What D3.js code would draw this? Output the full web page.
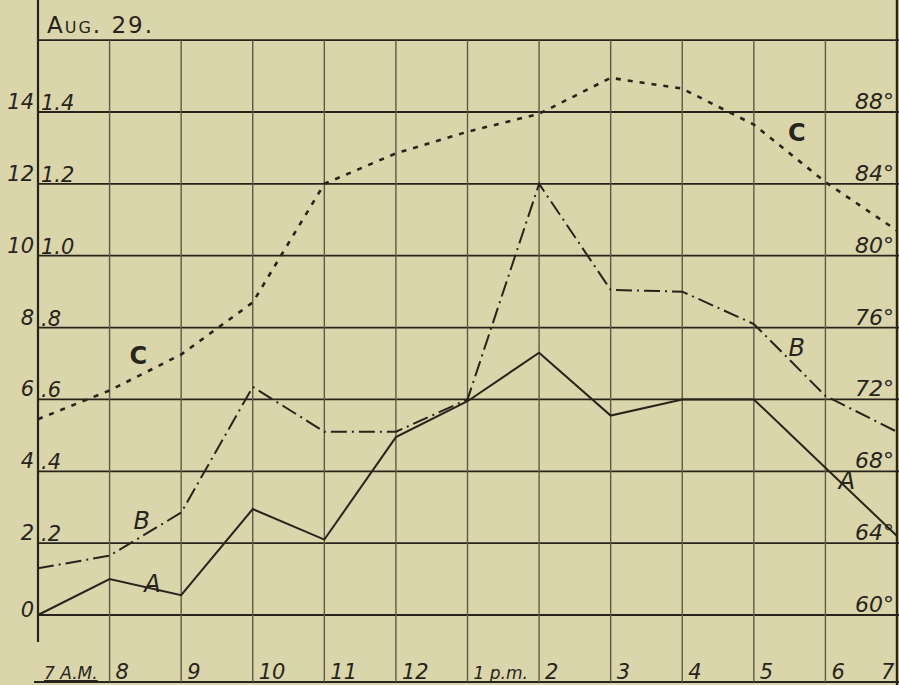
<!DOCTYPE html>
<html>
<head>
<meta charset="utf-8">
<script src="https://cdn.jsdelivr.net/npm/d3@7/dist/d3.min.js"></script>
<style>
  html, body { margin: 0; padding: 0; background: #dbd5ab; }
  svg { display: block; }
  text { font-family: "DejaVu Sans", sans-serif; fill: #26241b; }
</style>
</head>
<body>
<svg id="chart" width="899" height="685"></svg>
<script>
// ---- data ----
const hours = ["7 A.M.", "8", "9", "10", "11", "12", "1 p.m.", "2", "3", "4", "5", "6", "7"];
const seriesA = [0, 1.0, 0.55, 2.95, 2.1, 4.95, 5.95, 7.3, 5.55, 6.0, 6.0, 4.1, 2.2];
const seriesB = [1.3, 1.65, 2.85, 6.35, 5.1, 5.1, 6.0, 12.0, 9.05, 9.0, 8.1, 6.1, 5.1];
const seriesC = [5.45, 6.25, 7.25, 8.7, 12.0, 12.85, 13.45, 13.95, 14.95, 14.65, 13.65, 12.05, 10.7];
const leftOuterTicks = [0, 2, 4, 6, 8, 10, 12, 14];
const leftOuterLabels = ["0", "2", "4", "6", "8", "10", "12", "14"];
const leftInnerLabels = ["", ".2", ".4", ".6", ".8", "1.0", "1.2", "1.4"];
const rightLabels = ["60°", "64°", "68°", "72°", "76°", "80°", "84°", "88°"];
const gridValues = [0, 2, 4, 6, 8, 10, 12, 14, 16];
const title = "Aug. 29.";

// ---- layout ----
const svg = d3.select("#chart");
const x = d3.scaleLinear().domain([0, hours.length - 1]).range([38, 897]);
const y = d3.scaleLinear().domain([0, 14]).range([615, 112]);
const ink = "#26241b";
const gridInk = "#5e5a48";

// horizontal grid lines
svg.append("g").selectAll("line").data(gridValues).join("line")
  .attr("x1", x(0)).attr("x2", 899)
  .attr("y1", d => y(d)).attr("y2", d => y(d))
  .attr("stroke", ink).attr("stroke-width", 1.8);

// bottom border
svg.append("line").attr("x1", 34).attr("x2", 899).attr("y1", 682).attr("y2", 682)
  .attr("stroke", ink).attr("stroke-width", 2);

// vertical grid lines
svg.append("g").selectAll("line").data(d3.range(1, hours.length - 1)).join("line")
  .attr("x1", d => x(d)).attr("x2", d => x(d))
  .attr("y1", y(16)).attr("y2", 682)
  .attr("stroke", gridInk).attr("stroke-width", 1.4);

// left axis and right border
svg.append("line").attr("x1", x(0)).attr("x2", x(0)).attr("y1", 0).attr("y2", 642)
  .attr("stroke", ink).attr("stroke-width", 2.2);
svg.append("line").attr("x1", x(12)).attr("x2", x(12)).attr("y1", 0).attr("y2", 685)
  .attr("stroke", ink).attr("stroke-width", 2.4);

// title
svg.append("text").attr("x", 47).attr("y", 33)
  .attr("font-size", 23).attr("letter-spacing", 2)
  .style("font-variant", "small-caps")
  .text(title);

// left labels
const lg = svg.append("g").attr("font-style", "italic").attr("font-size", 21);
lg.selectAll("text.outer").data(leftOuterTicks).join("text")
  .attr("class", "outer")
  .attr("x", x(0) - 4)
  .attr("y", d => y(d) - (d === 0 ? -2 : 3))
  .attr("text-anchor", "end")
  .text((d, i) => leftOuterLabels[i]);
lg.selectAll("text.inner").data(leftOuterTicks).join("text")
  .attr("class", "inner")
  .attr("x", x(0) + 3)
  .attr("y", d => y(d) - 2)
  .text((d, i) => leftInnerLabels[i]);

// right labels
svg.append("g").attr("font-style", "italic").attr("font-size", 22)
  .selectAll("text").data(leftOuterTicks).join("text")
  .attr("x", 894).attr("y", d => y(d) - 3)
  .attr("text-anchor", "end")
  .text((d, i) => rightLabels[i]);

// x labels
svg.append("g").attr("font-size", 21).attr("font-style", "italic")
  .selectAll("text").data(hours).join("text")
  .attr("x", (d, i) => i === 12 ? x(i) - 16 : x(i) + 6)
  .attr("y", 679)
  .attr("font-size", (d, i) => i === 0 || i === 6 ? 17 : 21)
  .attr("text-decoration", (d, i) => i === 0 ? "underline" : null)
  .text(d => d);

// series lines
const line = d3.line().x((d, i) => x(i)).y(d => y(d));
svg.append("path").datum(seriesC).attr("d", line)
  .attr("fill", "none").attr("stroke", ink).attr("stroke-width", 2.6)
  .attr("stroke-dasharray", "5,7");
svg.append("path").datum(seriesB).attr("d", line)
  .attr("fill", "none").attr("stroke", ink).attr("stroke-width", 2)
  .attr("stroke-dasharray", "16,5,2,5");
svg.append("path").datum(seriesA).attr("d", line)
  .attr("fill", "none").attr("stroke", ink).attr("stroke-width", 2);

// series labels
const labels = [
  {t: "C", i: 1.4, v: 7.0}, {t: "C", i: 10.6, v: 13.2},
  {t: "B", i: 1.45, v: 2.4}, {t: "B", i: 10.6, v: 7.2},
  {t: "A", i: 1.6, v: 0.65}, {t: "A", i: 11.3, v: 3.5}
];
svg.append("g").attr("font-size", 24)
  .selectAll("text").data(labels).join("text")
  .attr("x", d => x(d.i)).attr("y", d => y(d.v))
  .attr("text-anchor", "middle")
  .attr("font-style", d => d.t === "C" ? "normal" : "italic")
  .attr("font-weight", d => d.t === "C" ? "bold" : "normal")
  .text(d => d.t);
</script>
</body>
</html>
